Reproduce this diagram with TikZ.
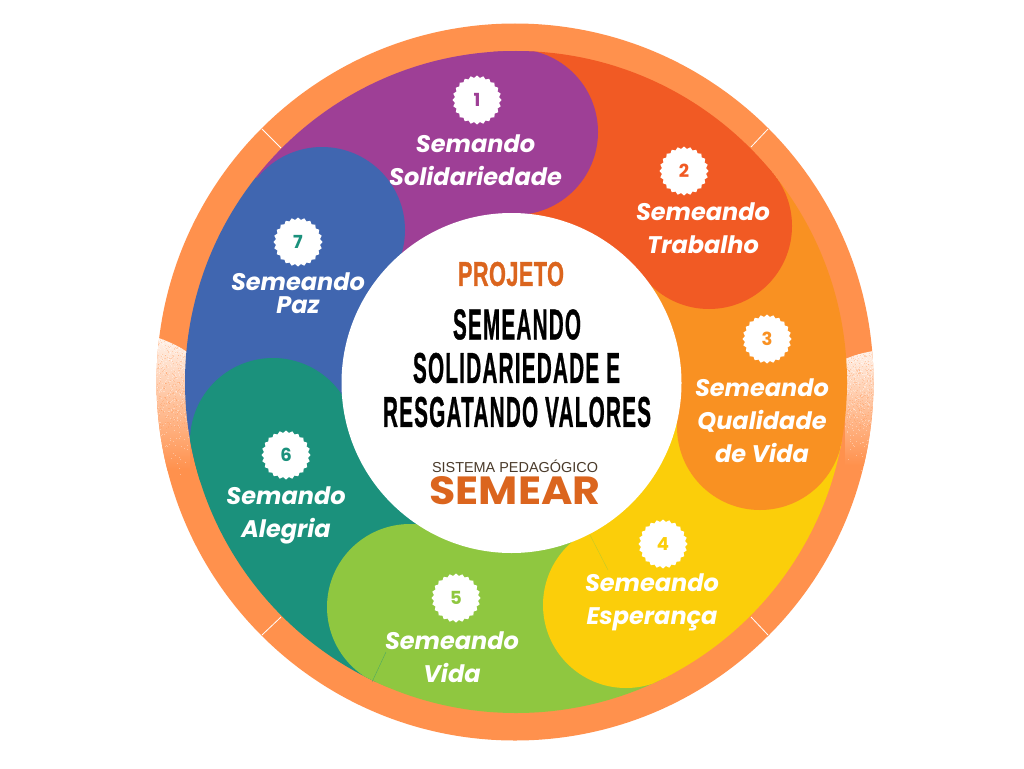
\documentclass[tikz,border=0pt]{standalone}
\usepackage{fontspec}
\usepackage{graphicx}
\usetikzlibrary{shapes.geometric}
\setmainfont{Liberation Sans}
\newfontfamily\popfont{Poppins}
\newfontfamily\ttlfont[LetterSpace=6,FakeBold=1.2]{Liberation Sans}
\newfontfamily\prjfont[LetterSpace=2,FakeBold=1.2]{Liberation Sans}
\definecolor{ringc}{HTML}{FF914D}
\definecolor{cpurple}{HTML}{9E3F96}
\definecolor{cred}{HTML}{F15A24}
\definecolor{corange}{HTML}{F99122}
\definecolor{cyellow}{HTML}{FBCE0A}
\definecolor{cgreen}{HTML}{8FC740}
\definecolor{cteal}{HTML}{1B917C}
\definecolor{cblue}{HTML}{4066B0}
\definecolor{ctitle}{HTML}{DB651E}
\definecolor{cbrown}{HTML}{4A3A2A}
\definecolor{cpale}{HTML}{FFF1E8}
\tikzset{
  badge/.style={star,star points=24,star point ratio=1.1,minimum size=49pt,inner sep=0pt,fill=white,
    font=\popfont\bfseries\fontsize{18}{18}\selectfont},
  lab/.style={text=white,align=center,inner sep=0pt,font=\popfont\bfseries\itshape\fontsize{24}{33}\selectfont},
  ttl/.style={inner sep=0pt,font=\ttlfont\bfseries},
  tick/.style={white,line width=0.8pt},
  seam/.style={line width=0.4pt,opacity=0.55}
}
% wedge: colour, start angle, end angle (angles measured on the flipped y axis)
\newcommand{\wedgefill}[3]{\fill[#1] (516,382) -- ++(#2:340) arc[start angle=#2,end angle=#3,radius=340] -- cycle;}
\newcommand{\speckle}[4]{% x0, width, y0, height
  \foreach \i in {1,...,600}{
    \pgfmathsetmacro{\px}{#1+#2*rnd}
    \pgfmathsetmacro{\py}{#3+#4*rnd*rnd}
    \fill[white,opacity=0.35] (\px,\py) rectangle ++(1,1);
  }
  \foreach \i in {1,...,400}{
    \pgfmathsetmacro{\px}{#1+#2*rnd}
    \pgfmathsetmacro{\py}{#3+0.6*#4*rnd}
    \fill[ringc,opacity=0.3] (\px,\py) rectangle ++(1,1);
  }
}
\begin{document}
\begin{tikzpicture}[x=1pt,y=-1pt]
\useasboundingbox (0,0) rectangle (1024,768);
\fill[white] (0,0) rectangle (1024,768);
\pgfmathsetseed{4711}
% ring
\fill[ringc] (515,382) circle[radius=358.5];
% pale fading parts of the ring
\begin{scope}
  \clip (515,382) circle[radius=358.5];
  \clip (150,335) .. controls (165,340) and (178,345) .. (190,354) -- (190,500) -- (150,500) -- cycle;
  \shade[top color=cpale,bottom color=ringc] (150,338) rectangle (195,470);
  \speckle{150}{42}{338}{150}
\end{scope}
\begin{scope}
  \clip (515,382) circle[radius=358.5];
  \clip (845,359) .. controls (855,355) and (865,352) .. (880,350) -- (880,490) -- (845,490) -- cycle;
  \shade[top color=cpale,bottom color=ringc] (840,350) rectangle (880,465);
  \speckle{842}{36}{350}{130}
\end{scope}
% ticks in the ring
\coordinate (t1a) at (262,129); \coordinate (t1b) at (281,148);
\coordinate (t2a) at (768,129); \coordinate (t2b) at (751,147);
\coordinate (t3a) at (262,635); \coordinate (t3b) at (281,617);
\coordinate (t4a) at (768,635); \coordinate (t4b) at (751,617);
\draw[tick] (t1a)--(t1b); \draw[tick] (t2a)--(t2b); \draw[tick] (t3a)--(t3b); \draw[tick] (t4a)--(t4b);
% coloured band
\begin{scope}
  \clip (516,382) circle[radius=331];
  \wedgefill{cpurple}{-141.8}{-90}
  \wedgefill{cred}{-90}{-38.8}
  \wedgefill{corange}{-38.8}{10.4}
  \wedgefill{cyellow}{10.4}{63.5}
  \wedgefill{cgreen}{63.5}{115}
  \wedgefill{cteal}{115}{166.3}
  \wedgefill{cblue}{166.3}{218.2}
  \fill[cpurple] (515,132) circle[radius=83];
  \fill[cred] (709,226) circle[radius=83];
  \fill[corange] (760,427) circle[radius=83];
  \fill[cyellow] (626,605) circle[radius=83];
  \fill[cgreen] (410,607) circle[radius=83];
  \fill[cteal] (273,441) circle[radius=83];
  \fill[cblue] (322,230) circle[radius=83];
\end{scope}
% faint seams
\coordinate (s1a) at (372,682); \coordinate (s1b) at (386,652);
\coordinate (s2a) at (590,535); \coordinate (s2b) at (608,570);
\draw[seam,cteal] (s1a)--(s1b);
\draw[seam,cgreen] (s2a)--(s2b);
% centre
\node[circle,fill=white,minimum size=340pt,inner sep=0pt] (hub) at (511.5,383) {};
\node[inner sep=0pt,font=\prjfont\bfseries,text=ctitle] (projeto) at (511,274) {\resizebox{106pt}{24pt}{PROJETO}};
\node[ttl] (t1) at (517,324.5) {\resizebox{128pt}{30pt}{SEMEANDO}};
\node[ttl] (t2) at (516.5,368) {\resizebox{207pt}{30pt}{SOLIDARIEDADE E}};
\node[ttl] (t3) at (517,412) {\resizebox{268pt}{30pt}{RESGATANDO VALORES}};
\node[inner sep=0pt,text=cbrown] (sis) at (515,466) {\resizebox{166pt}{!}{SISTEMA PEDAGÓGICO}};
\node[inner sep=0pt,font=\popfont\bfseries,text=ctitle] (semear) at (515,491) {\resizebox{171pt}{28pt}{SEMEAR}};
% badges
\node[badge,text=cpurple] (b1) at (477,100) {1};
\node[badge,text=cred] (b2) at (684,171) {2};
\node[badge,text=corange] (b3) at (767,339) {3};
\node[badge,text=cyellow] (b4) at (663,544) {4};
\node[badge,text=cgreen] (b5) at (456,598) {5};
\node[badge,text=cteal] (b6) at (286,455) {6};
\node[badge,text=cteal] (b7) at (298,242) {7};
% labels
\node[lab] (l1) at (475.5,160) {Semando\\Solidariedade};
\node[lab] (l2) at (703,228) {Semeando\\Trabalho};
\node[lab] (l3) at (762,421) {Semeando\\Qualidade\\de Vida};
\node[lab] (l4) at (652,602) {Semeando\\Esperança};
\node[lab] (l5) at (452,657.5) {Semeando\\Vida};
\node[lab] (l6) at (286,515) {Semando\\Alegria};
\node[lab,font=\popfont\bfseries\itshape\fontsize{24}{23}\selectfont] (l7) at (298,293) {Semeando\\Paz};
\end{tikzpicture}
\end{document}
